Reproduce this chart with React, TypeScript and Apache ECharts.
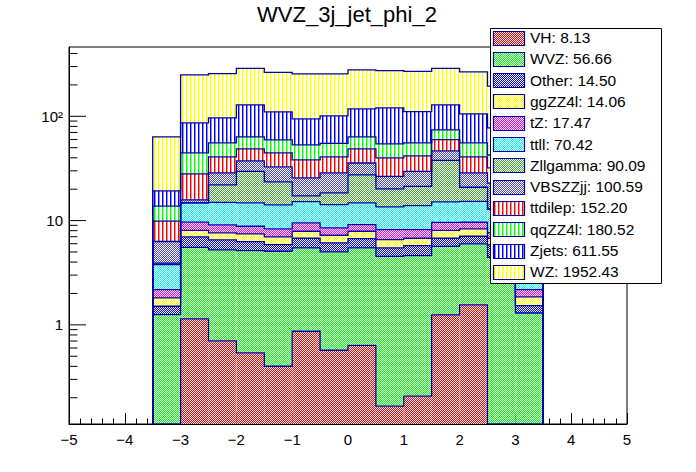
import React, { useEffect, useRef } from "react";
import * as echarts from "echarts";

// ---------------- data ----------------
const chartTitle = "WVZ_3j_jet_phi_2";
const binEdges = [-3.5, -3, -2.5, -2, -1.5, -1, -0.5, 0, 0.5, 1, 1.5, 2, 2.5, 3, 3.5];

// stack order: bottom -> top (also legend order, top -> bottom)
const processNames = ["VH", "WVZ", "Other", "ggZZ4l", "tZ", "ttll", "Zllgamma", "VBSZZjj", "ttdilep", "qqZZ4l", "Zjets", "WZ"];
const legendYields = ["8.13", "56.66", "14.50", "14.06", "17.47", "70.42", "90.09", "100.59", "152.20", "180.52", "611.55", "1952.43"];

const VH = [0, 1.142, 0.703, 0.539, 0.401, 0.868, 0.571, 0.637, 0.166, 0.207, 1.247, 1.555, 0, 0];
const WVZ = [1.255, 4.404, 4.537, 4.62, 4.68, 4.6, 4.44, 4.83, 4.38, 4.41, 4.42, 4.43, 4.45, 1.3];
const Other = [0.253, 1.434, 1.29, 1.13, 0.81, 1.3, 1.1, 1.25, 0.92, 1.14, 1.1, 1.09, 1.4, 0.23];
const ggZZ4l = [0.307, 1.06, 1.09, 1.17, 1.09, 1.13, 1.12, 1.18, 1.1, 1.01, 1.3, 1.26, 0.92, 0.325];
const tZ = [0.365, 1.63, 1.47, 1.36, 1.35, 1.61, 1.28, 1.26, 1.63, 1.43, 1.56, 1.3, 0.9, 0.32];
const ttll = [1.61, 5.11, 5.89, 5.96, 5.81, 5.7, 5.72, 5.62, 5.33, 5.72, 5.48, 5.68, 5.2, 1.6];
const Zllgamma = [0.12, 0, 7.02, 14.9, 9.36, 2.04, 4.2, 12.6, 6.57, 7.38, 22.7, 5.55, 0, 0];
const VBSZZjj = [2.39, 1.0, 6.67, 7.7, 9.2, 8.45, 10.24, 8.3, 6.5, 8.4, 8.75, 7.81, 10, 2.4];
const ttdilep = [3.6, 12.25, 12.13, 11.3, 11.9, 12.5, 12.13, 13.0, 13.3, 12.0, 13.2, 12.13, 9.2, 3.6];
const qqZZ4l = [3.86, 16.56, 14.8, 14.8, 14.8, 15.0, 14.3, 14.8, 14.5, 13.9, 14.3, 14.8, 10.5, 3.6];
const Zjets = [5.47, 41.9, 40.9, 65.1, 50.8, 41.2, 45.8, 54.2, 66.0, 55.3, 54.5, 49.8, 35, 5.5];
const WZ = [44.3, 162.9, 160.2, 159.9, 154.0, 160.6, 154.1, 160.9, 153.9, 159.1, 159.9, 161.1, 117, 42];

const seriesValues = [VH, WVZ, Other, ggZZ4l, tZ, ttll, Zllgamma, VBSZZjj, ttdilep, qqZZ4l, Zjets, WZ];

const xTickValues = [-5, -4, -3, -2, -1, 0, 1, 2, 3, 4, 5];
const xTickLabels = ["\u22125", "\u22124", "\u22123", "\u22122", "\u22121", "0", "1", "2", "3", "4", "5"];
const yTickValues = [1, 10, 100];
const yTickLabels = ["1", "10", "10\u00b2"];
const yMinorTickValues = [0.2, 0.3, 0.4, 0.5, 0.6, 0.7, 0.8, 0.9, 2, 3, 4, 5, 6, 7, 8, 9, 20, 30, 40, 50, 60, 70, 80, 90, 200, 300, 400];

// ---------------- styles ----------------
const X_MIN = -5;
const X_MAX = 5;
const Y_MIN = 0.112;
const Y_MAX = 462;
const FONT = "'Liberation Sans', Arimo, Helvetica, Arial, sans-serif";
const OUTLINE = "#0000aa";

const fillStyles: Record<string, { color: string; kind: "hatch" | "vert" }> = {
  VH: { color: "#ff0000", kind: "hatch" },
  WVZ: { color: "#00ff00", kind: "hatch" },
  Other: { color: "#0000ff", kind: "hatch" },
  ggZZ4l: { color: "#ffff00", kind: "hatch" },
  tZ: { color: "#ff00ff", kind: "hatch" },
  ttll: { color: "#00ffff", kind: "hatch" },
  Zllgamma: { color: "#44aa33", kind: "hatch" },
  VBSZZjj: { color: "#4848bb", kind: "hatch" },
  ttdilep: { color: "#ff0000", kind: "vert" },
  qqZZ4l: { color: "#00ff00", kind: "vert" },
  Zjets: { color: "#0000ff", kind: "vert" },
  WZ: { color: "#ffff00", kind: "vert" },
};

const TILE = 16;

function makePattern(color: string, kind: "hatch" | "vert"): any {
  const c = document.createElement("canvas");
  c.width = TILE;
  c.height = TILE;
  const ctx = c.getContext("2d")!;
  ctx.imageSmoothingEnabled = false;
  ctx.fillStyle = "#ffffff";
  ctx.fillRect(0, 0, TILE, TILE);
  ctx.fillStyle = color;
  if (kind === "hatch") {
    for (let y = 0; y < TILE; y++) {
      for (let x = 0; x < TILE; x++) {
        if ((x + y) % 2 === 1) ctx.fillRect(x, y, 1, 1);
      }
    }
  } else {
    for (let x = 2; x < TILE; x += 4) {
      ctx.globalAlpha = 1;
      ctx.fillRect(x, 0, 1, TILE);
      ctx.globalAlpha = 0.45;
      ctx.fillRect(x + 1, 0, 1, TILE);
    }
    ctx.globalAlpha = 1;
  }
  return { image: c, repeat: "repeat", imageWidth: TILE, imageHeight: TILE };
}

export default function App() {
  const ref = useRef<HTMLDivElement>(null);

  useEffect(() => {
    document.body.style.margin = "0";
    if (!ref.current) return;
    const chart = echarts.init(ref.current, undefined, { renderer: "svg" });

    const nb = binEdges.length - 1;
    const patterns = processNames.map((n) => makePattern(fillStyles[n].color, fillStyles[n].kind));

    // cumulative stacks
    const lowers: number[][] = [];
    const uppers: number[][] = [];
    let run = new Array(nb).fill(0);
    seriesValues.forEach((vals) => {
      lowers.push(run.slice());
      run = run.map((r, i) => r + vals[i]);
      uppers.push(run.slice());
    });

    const series: any[] = [];
    processNames.forEach((name, k) => {
      const data = [];
      for (let i = 0; i < nb; i++) {
        data.push([binEdges[i], binEdges[i + 1], Math.max(lowers[k][i], Y_MIN), Math.max(uppers[k][i], Y_MIN)]);
      }
      const pat = patterns[k];
      series.push({
        type: "custom",
        name,
        coordinateSystem: "cartesian2d",
        clip: true,
        silent: true,
        z: 2,
        encode: { x: [0, 1], y: [2, 3] },
        data,
        renderItem: (params: any, api: any) => {
          const b = api.value(2);
          const t = api.value(3);
          if (!(t > b)) return { type: "group", children: [] };
          const p0 = api.coord([api.value(0), t]);
          const p1 = api.coord([api.value(1), b]);
          return {
            type: "rect",
            shape: { x: p0[0], y: p0[1], width: p1[0] - p0[0], height: p1[1] - p0[1] },
            style: { fill: pat },
          };
        },
      });
    });

    processNames.forEach((name, k) => {
      const tops = uppers[k].map((v) => Math.max(v, Y_MIN));
      series.push({
        type: "custom",
        name: name + "_outline",
        coordinateSystem: "cartesian2d",
        clip: true,
        silent: true,
        z: 3,
        encode: { x: 0, y: 1 },
        data: [[binEdges[0], Y_MIN]],
        renderItem: (params: any, api: any) => {
          const pts: number[][] = [];
          pts.push(api.coord([binEdges[0], Y_MIN]));
          for (let i = 0; i < nb; i++) {
            pts.push(api.coord([binEdges[i], tops[i]]));
            pts.push(api.coord([binEdges[i + 1], tops[i]]));
          }
          pts.push(api.coord([binEdges[nb], Y_MIN]));
          return {
            type: "polyline",
            shape: { points: pts },
            style: { stroke: OUTLINE, lineWidth: 1.3, fill: "none" },
          };
        },
      });
    });

    // y-axis ticks (log style, inside)
    const tickData = [
      ...yTickValues.map((v) => [X_MIN, v, 1]),
      ...yMinorTickValues.map((v) => [X_MIN, v, 0]),
    ];
    series.push({
      type: "custom",
      name: "yticks",
      coordinateSystem: "cartesian2d",
      clip: false,
      silent: true,
      z: 5,
      encode: { x: 0, y: 1 },
      data: tickData,
      renderItem: (params: any, api: any) => {
        const c = api.coord([api.value(0), api.value(1)]);
        const len = api.value(2) ? 17 : 8.5;
        return {
          type: "line",
          shape: { x1: c[0], y1: c[1], x2: c[0] + len, y2: c[1] },
          style: { stroke: "#000", lineWidth: 1 },
        };
      },
    });

    const legendLeft = 490.5;
    const legendTop = 28.5;
    const rowY0 = 37.5;
    const rowStep = 21.3;
    const graphic: any[] = [
      {
        type: "text",
        z: 100,
        x: 347,
        y: 14,
        style: { text: chartTitle, fontSize: 22, fontFamily: FONT, fill: "#000", align: "center", verticalAlign: "middle" },
      },
      {
        type: "rect",
        z: 100,
        shape: { x: legendLeft, y: legendTop, width: 171, height: 255 },
        style: { fill: "#fff", stroke: "#000", lineWidth: 1 },
      },
    ];
    processNames.forEach((name, k) => {
      const cy = rowY0 + k * rowStep;
      graphic.push({
        type: "rect",
        z: 101,
        shape: { x: 493.5, y: Math.round(cy - 7) + 0.5, width: 31, height: 14 },
        style: { fill: patterns[k], stroke: OUTLINE, lineWidth: 1.2 },
      });
      graphic.push({
        type: "text",
        z: 101,
        x: 530,
        y: cy,
        style: {
          text: name + ": " + legendYields[k],
          fontSize: 15.5,
          fontFamily: FONT,
          fill: "#000",
          align: "left",
          verticalAlign: "middle",
        },
      });
    });

    chart.setOption({
      animation: false,
      backgroundColor: "#fff",
      grid: { left: 69, right: 69, top: 47, bottom: 48, show: true, borderColor: "#000", borderWidth: 1, backgroundColor: "transparent" },
      xAxis: {
        type: "value",
        min: X_MIN,
        max: X_MAX,
        interval: 1,
        axisLine: { show: true, onZero: false, lineStyle: { color: "#000", width: 1 } },
        axisTick: { show: true, inside: true, length: 11, lineStyle: { color: "#000", width: 1 } },
        minorTick: { show: true, splitNumber: 5, length: 5.5, lineStyle: { color: "#000", width: 1 } },
        splitLine: { show: false },
        minorSplitLine: { show: false },
        axisLabel: {
          margin: 8,
          fontSize: 15,
          color: "#000",
          fontFamily: FONT,
          formatter: (v: number) => {
            const i = xTickValues.indexOf(Math.round(v));
            return i >= 0 ? xTickLabels[i] : "";
          },
        },
      },
      yAxis: {
        type: "log",
        logBase: 10,
        min: Y_MIN,
        max: Y_MAX,
        axisLine: { show: true, onZero: false, lineStyle: { color: "#000", width: 1 } },
        axisTick: { show: false },
        minorTick: { show: false },
        splitLine: { show: false },
        axisLabel: {
          margin: 6,
          fontSize: 15,
          color: "#000",
          fontFamily: FONT,
          showMinLabel: false,
          showMaxLabel: false,
          formatter: (v: number) => {
            const lg = Math.log10(v);
            const e = Math.round(lg);
            if (Math.abs(lg - e) > 1e-6) return "";
            const i = yTickValues.indexOf(Math.pow(10, e));
            return i >= 0 ? yTickLabels[i] : "";
          },
        },
      },
      graphic,
      series,
    });

    return () => {
      chart.dispose();
    };
  }, []);

  return <div ref={ref} style={{ width: 696, height: 472 }} />;
}
